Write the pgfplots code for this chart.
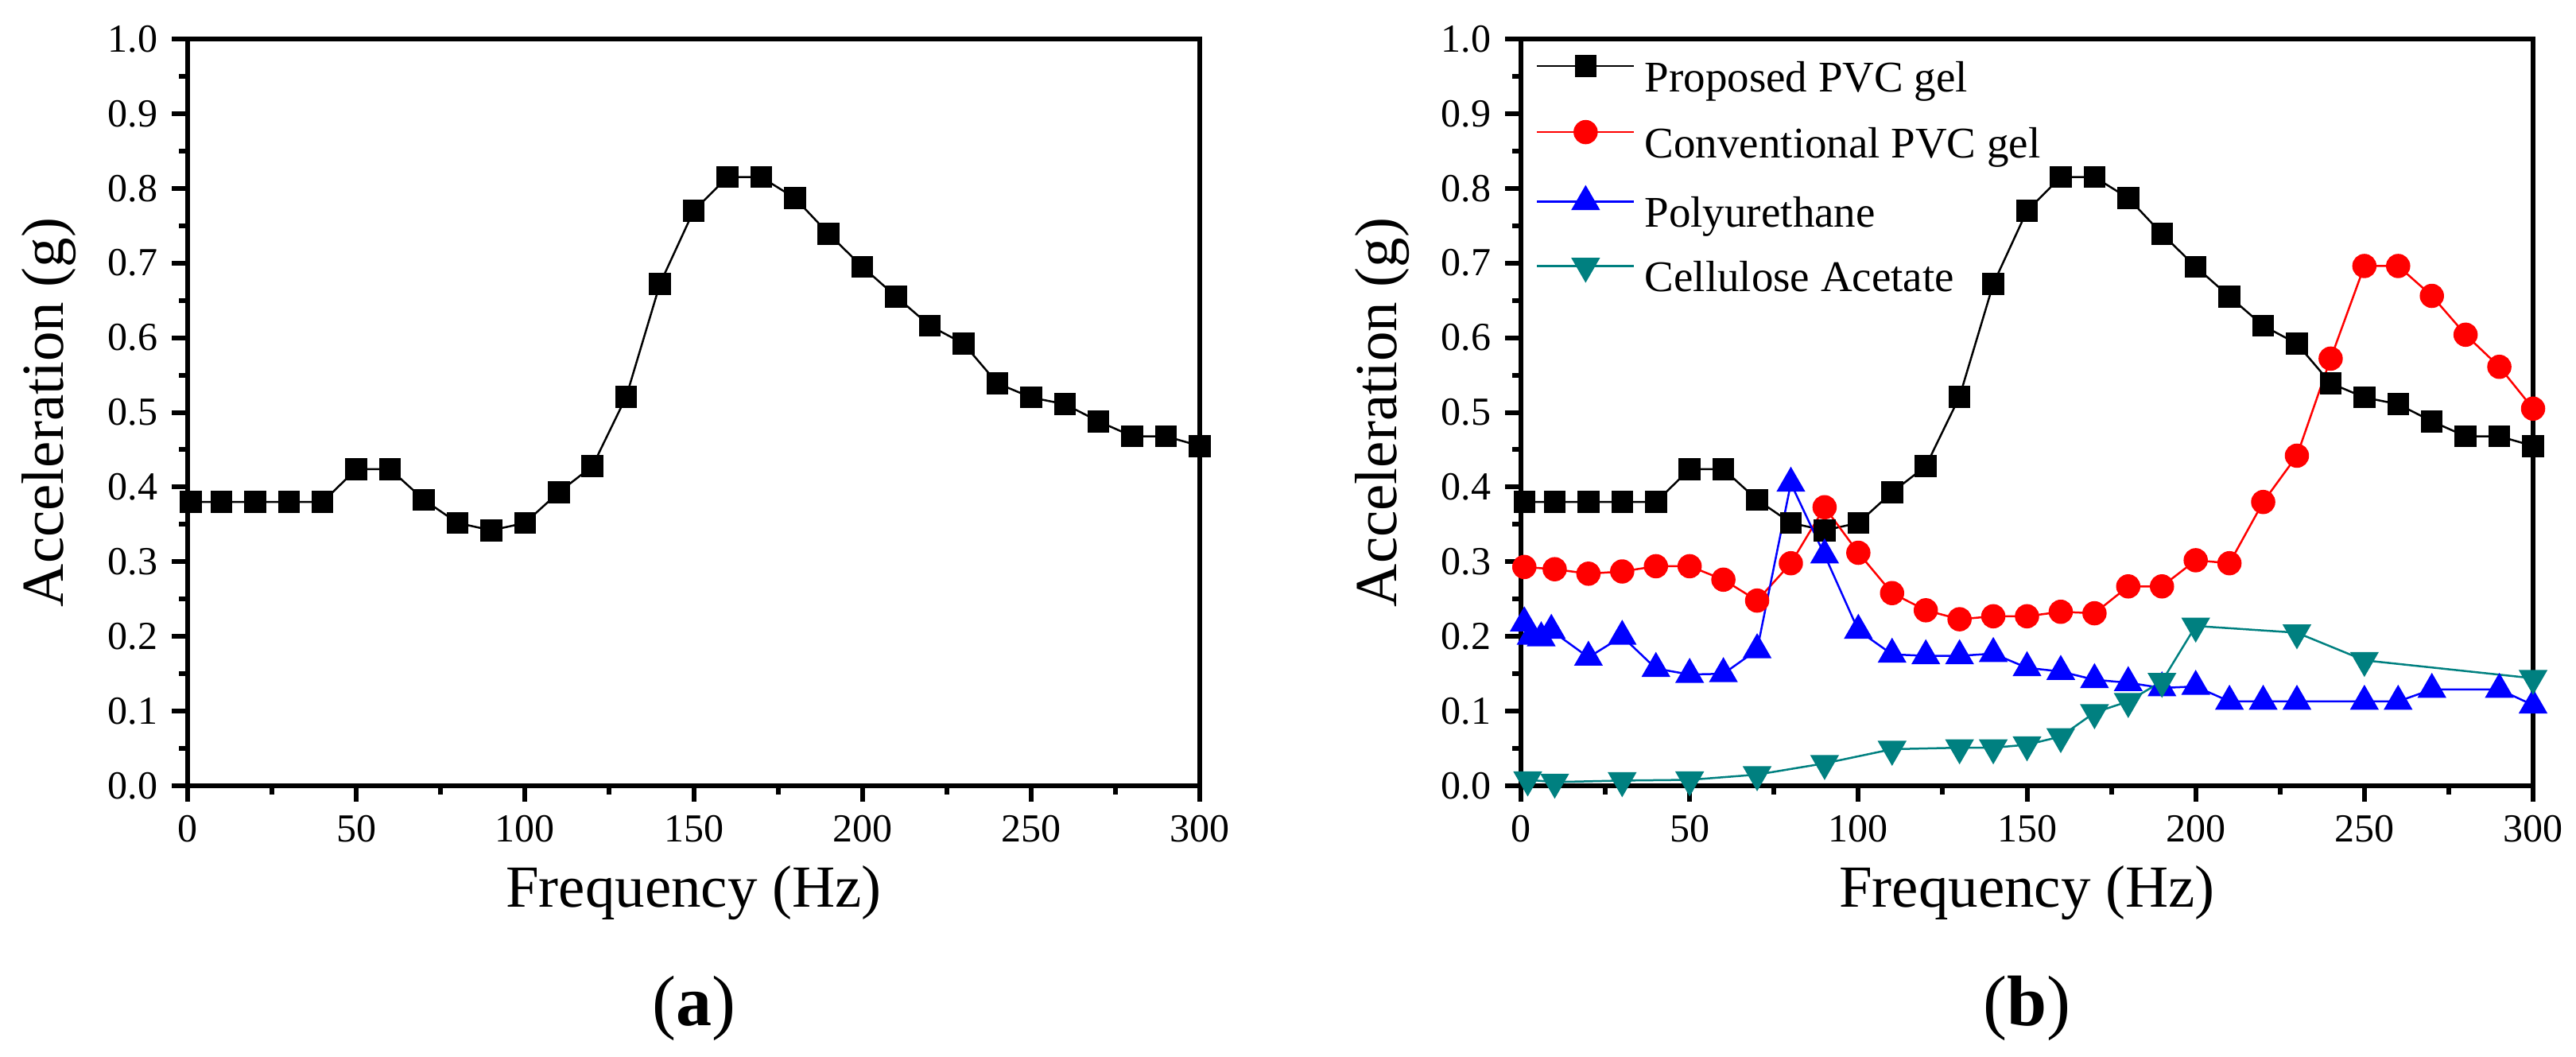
\documentclass[border=0pt]{standalone}
\usepackage{fontspec}
\setmainfont{Liberation Serif}
\usepackage{pgfplots}
\pgfplotsset{compat=1.18}
\definecolor{tealc}{RGB}{0,128,128}
\pgfplotsset{
  myaxis/.style={
    scale only axis,
    anchor=south west,
    width=254.6pt, height=187.8pt,
    xmin=0, xmax=300, ymin=0, ymax=1,
    xtick={0,50,...,300}, ytick={0,0.1,...,1.0},
    minor x tick num=1, minor y tick num=1,
    tick pos=left, tick align=outside,
    major tick length=4pt, minor tick length=2.2pt,
    axis line style={line width=1.2pt},
    every tick/.style={line width=1.2pt, black},
    /pgf/number format/assume math mode=true,
    ticklabel style={font=\fontsize{10}{12}\selectfont},
    yticklabel style={/pgf/number format/.cd, fixed, fixed zerofill, precision=1},
    xlabel={Frequency (Hz)}, ylabel={Acceleration (g)},
    label style={font=\fontsize{15}{18}\selectfont},
    xlabel style={at={(axis description cs:0.5,0)}, anchor=center, yshift=-27pt},
    ylabel style={at={(axis description cs:-0.137,0.5)}, anchor=center},
  },
  blk/.style={black, line width=0.5pt, mark=square*, mark size=2.5pt, mark options={solid, fill=black}},
  rd/.style={red, line width=0.5pt, mark=*, mark size=2.8pt, mark options={solid, fill=red}},
  bl/.style={blue, line width=0.5pt, mark=triangle*, mark size=3.7pt, mark options={solid, fill=blue}},
  tl/.style={tealc, line width=0.5pt, mark=triangle*, mark size=3.7pt, mark options={solid, fill=tealc, rotate=180}},
}
\begin{document}
\begin{tikzpicture}
\path[use as bounding box] (0,0) rectangle (648pt,265.6pt);
\begin{axis}[myaxis, at={(47.2pt,68pt)}]
\addplot[blk] coordinates {(1,0.38)(10,0.38)(20,0.38)(30,0.38)(40,0.38)(50,0.424)(60,0.424)(70,0.383)(80,0.352)(90,0.342)(100,0.352)(110,0.393)(120,0.428)(130,0.521)(140,0.672)(150,0.770)(160,0.815)(170,0.815)(180,0.787)(190,0.739)(200,0.695)(210,0.655)(220,0.616)(230,0.592)(240,0.539)(250,0.520)(260,0.511)(270,0.488)(280,0.468)(290,0.468)(300,0.455)};
\end{axis}
\begin{axis}[myaxis, at={(382.6pt,68pt)},
  legend style={draw=none, fill=none, at={(0.015,0.977)}, anchor=north west,
    font=\fontsize{11}{13}\selectfont, inner sep=0pt, outer sep=0pt,
    nodes={inner sep=0pt, text height=8.8pt, text depth=3.2pt},
    row sep=4.2pt, column sep=2.4pt},
  legend cell align=left,
  legend image code/.code={\draw[mark repeat=2, mark phase=2, #1] plot coordinates {(0pt,3.6pt) (12.2pt,3.6pt) (24.4pt,3.6pt)};}]
\addplot[blk] coordinates {(1,0.38)(10,0.38)(20,0.38)(30,0.38)(40,0.38)(50,0.424)(60,0.424)(70,0.383)(80,0.352)(90,0.342)(100,0.352)(110,0.393)(120,0.428)(130,0.521)(140,0.672)(150,0.770)(160,0.815)(170,0.815)(180,0.787)(190,0.739)(200,0.695)(210,0.655)(220,0.616)(230,0.592)(240,0.539)(250,0.520)(260,0.511)(270,0.488)(280,0.468)(290,0.468)(300,0.455)};
\addlegendentry{Proposed PVC gel}
\addplot[rd] coordinates {(1,0.293)(10,0.290)(20,0.284)(30,0.287)(40,0.294)(50,0.294)(60,0.276)(70,0.248)(80,0.298)(90,0.373)(100,0.312)(110,0.258)(120,0.235)(130,0.223)(140,0.227)(150,0.227)(160,0.233)(170,0.231)(180,0.267)(190,0.267)(200,0.302)(210,0.298)(220,0.380)(230,0.442)(240,0.572)(250,0.696)(260,0.696)(270,0.656)(280,0.604)(290,0.561)(300,0.505)};
\addlegendentry{Conventional PVC gel}
\addplot[bl] coordinates {(1,0.218)(3,0.200)(6,0.198)(9,0.208)(20,0.172)(30,0.200)(40,0.157)(50,0.149)(60,0.150)(70,0.182)(80,0.405)(90,0.309)(100,0.208)(110,0.176)(120,0.174)(130,0.174)(140,0.177)(150,0.158)(160,0.153)(170,0.142)(180,0.138)(190,0.131)(200,0.133)(210,0.113)(220,0.113)(230,0.113)(250,0.113)(260,0.113)(270,0.129)(290,0.129)(300,0.108)};
\addlegendentry{Polyurethane}
\addplot[tl] coordinates {(2,0.008)(10,0.005)(30,0.007)(50,0.008)(70,0.015)(90,0.030)(110,0.049)(130,0.051)(140,0.051)(150,0.055)(160,0.066)(170,0.098)(180,0.113)(190,0.140)(200,0.214)(230,0.205)(250,0.168)(300,0.144)};
\addlegendentry{Cellulose Acetate}
\end{axis}
\node[font=\fontsize{18}{21}\selectfont] at (174.6pt,12pt) {(\textbf{a})};
\node[font=\fontsize{18}{21}\selectfont] at (509.8pt,12pt) {(\textbf{b})};
\end{tikzpicture}
\end{document}
